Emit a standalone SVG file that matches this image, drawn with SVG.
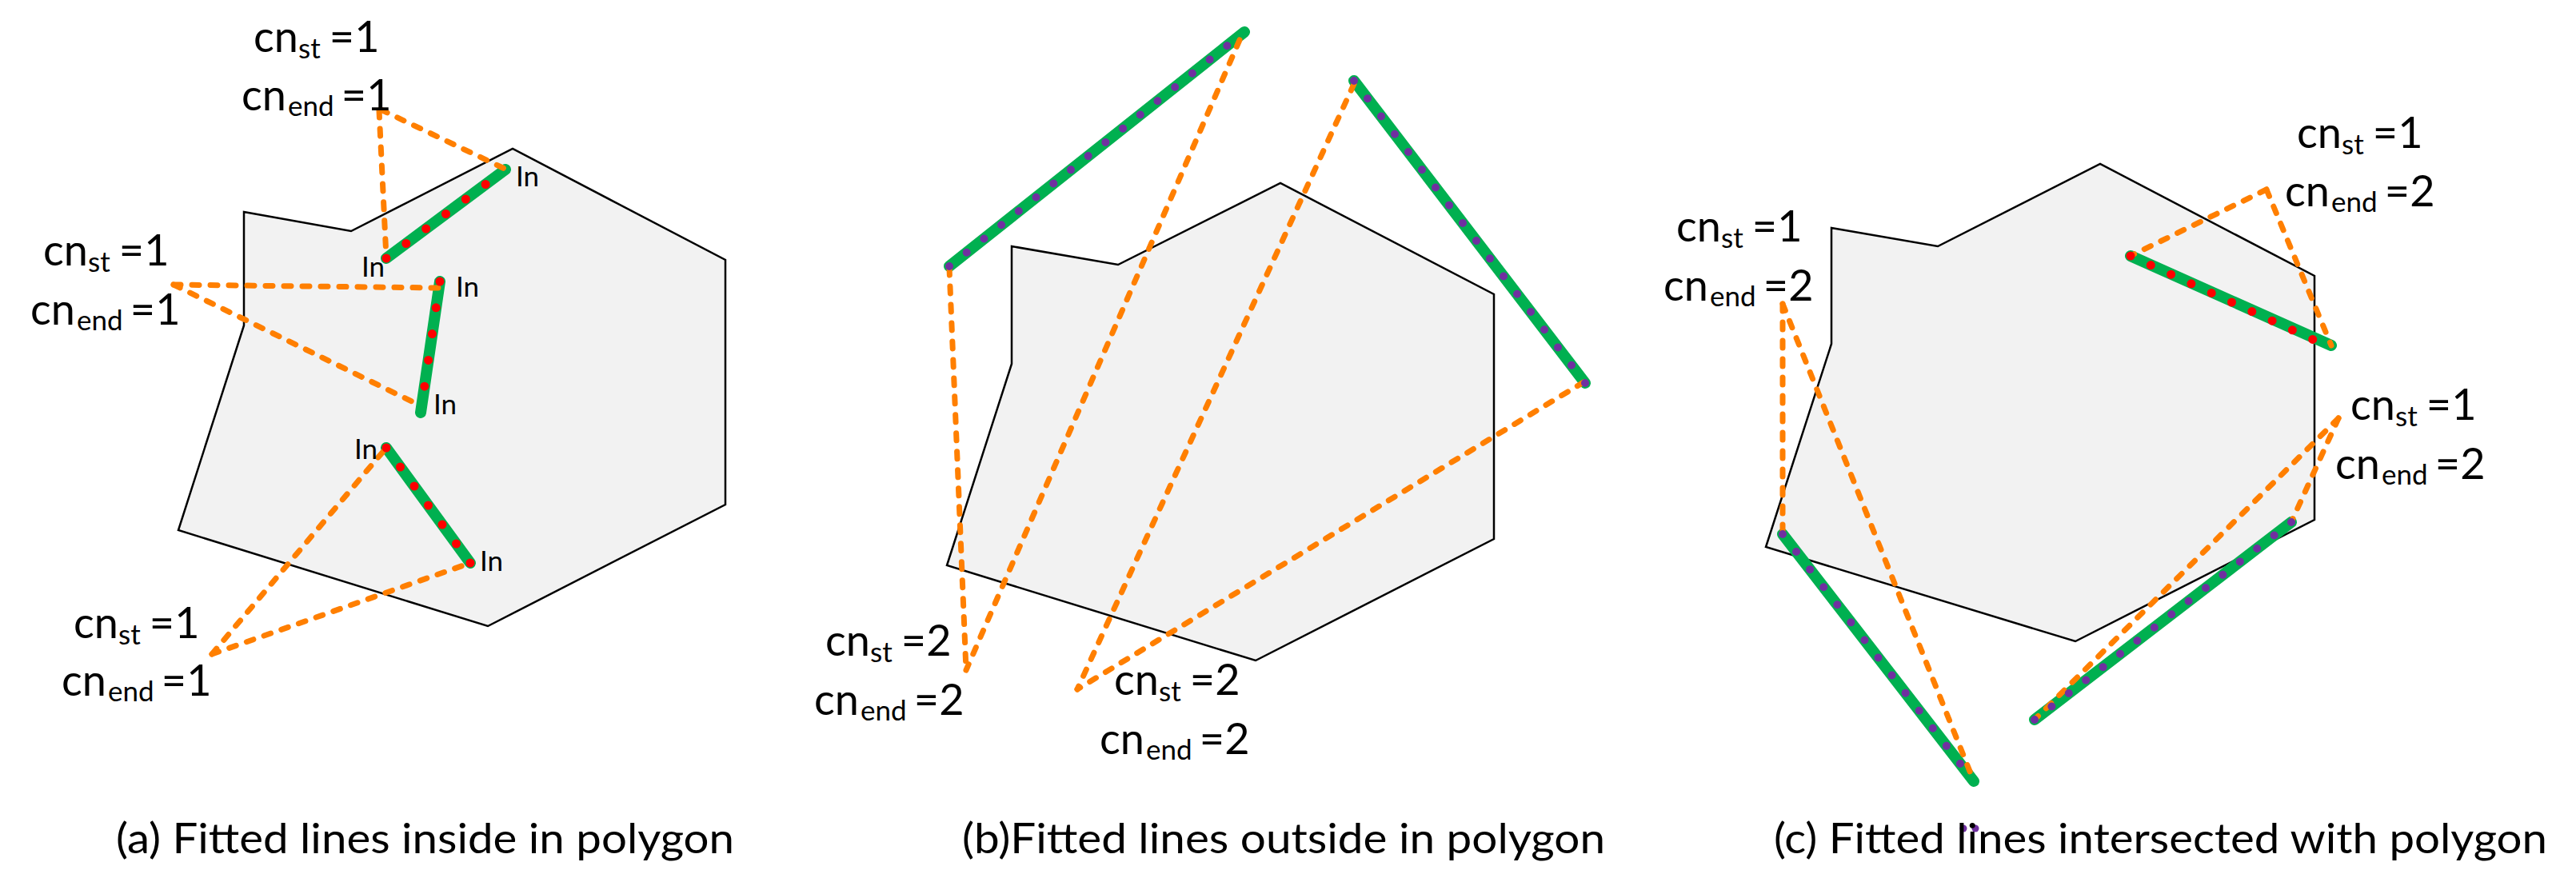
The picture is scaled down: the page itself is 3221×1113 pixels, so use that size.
<svg xmlns="http://www.w3.org/2000/svg" width="3221" height="1113" viewBox="0 0 3221 1113">
<style>
.poly{fill:#f2f2f2;stroke:#000;stroke-width:2.5;stroke-linejoin:miter}
.fit{stroke:#00b050;stroke-width:14;stroke-linecap:round;fill:none}
.rd{stroke:#ff0000;stroke-width:11;stroke-linecap:round;stroke-dasharray:0 1;fill:none}
.pd{stroke:#7030a0;stroke-width:10;stroke-linecap:round;stroke-dasharray:0 1;fill:none}
.conn{stroke:#ff7f00;stroke-width:7;stroke-dasharray:9 14;stroke-linecap:round;fill:none}
text{font-family:Lato,"Open Sans","Liberation Sans",sans-serif;fill:#000}
.lbl{font-size:54px}
.sub{font-size:35px}
.in{font-size:35px}
.cap{font-size:53px}
</style>
<rect width="3221" height="1113" fill="#fff"/>

<!-- Panel (a) -->
<g id="poly-a"><polygon class="poly" points="305,265 439,289 641,186 907,325 907,631 610,783 223,663 305,407"/></g>
<g id="line-a1"><line class="fit" x1="483" y1="323" x2="632" y2="212"/></g>
<g id="line-a2"><line class="fit" x1="550" y1="352" x2="526" y2="516"/></g>
<g id="line-a3"><line class="fit" x1="483" y1="560" x2="588" y2="704"/></g>

<!-- Panel (b) -->
<g id="poly-b"><polygon class="poly" points="1265,308 1398,331 1601,229 1868,368 1868,674 1570,826 1184,707 1265,455"/></g>
<g id="line-b1"><line class="fit" x1="1187" y1="333" x2="1556" y2="40"/></g>
<g id="line-b2"><line class="fit" x1="1693" y1="101" x2="1982" y2="479"/></g>

<!-- Panel (c) -->
<g id="poly-c"><polygon class="poly" points="2290,285 2423,308 2626,205 2894,345 2894,650 2595,802 2208,684 2290,430"/></g>
<g id="line-c1"><line class="fit" x1="2664" y1="320" x2="2915" y2="432"/></g>
<g id="line-c2"><line class="fit" x1="2229" y1="668" x2="2468" y2="977"/></g>
<g id="line-c3"><line class="fit" x1="2865" y1="653" x2="2544" y2="900"/></g>

<g id="connectors">
  <line class="conn" x1="474" y1="138" x2="483" y2="322"/>
  <line class="conn" x1="476" y1="137" x2="631" y2="211"/>
  <line class="conn" x1="217" y1="356" x2="548" y2="360"/>
  <line class="conn" x1="217" y1="356" x2="523" y2="506"/>
  <line class="conn" x1="265" y1="818" x2="483" y2="560"/>
  <line class="conn" x1="265" y1="818" x2="588" y2="704"/>
  <line class="conn" x1="1187" y1="335" x2="1208" y2="838"/>
  <line class="conn" x1="1550" y1="50" x2="1208" y2="838"/>
  <line class="conn" x1="1693" y1="105" x2="1347" y2="862"/>
  <line class="conn" x1="1980" y1="478" x2="1347" y2="862"/>
  <line class="conn" x1="2834" y1="237" x2="2664" y2="320"/>
  <line class="conn" x1="2834" y1="237" x2="2915" y2="432"/>
  <line class="conn" x1="2229" y1="380" x2="2229" y2="668"/>
  <line class="conn" x1="2229" y1="380" x2="2468" y2="977"/>
  <line class="conn" x1="2924" y1="523" x2="2865" y2="653"/>
  <line class="conn" x1="2924" y1="523" x2="2544" y2="900"/>
</g>

<g id="dots">
  <line class="rd" x1="483" y1="323" x2="632" y2="212" pathLength="6"/>
  <line class="rd" x1="550" y1="352" x2="526" y2="516" pathLength="5"/>
  <line class="rd" x1="483" y1="560" x2="588" y2="704" pathLength="6"/>
  <line class="pd" x1="1187" y1="333" x2="1556" y2="40" pathLength="17"/>
  <line class="pd" x1="1693" y1="101" x2="1982" y2="479" pathLength="17"/>
  <line class="rd" x1="2664" y1="320" x2="2917" y2="436" pathLength="10"/>
  <line class="pd" x1="2229" y1="668" x2="2468" y2="977" pathLength="14"/>
  <line class="pd" x1="2865" y1="653" x2="2544" y2="900" pathLength="15"/>
  <circle cx="2455" cy="1036" r="4.5" fill="#7030a0"/>
  <circle cx="2470" cy="1036" r="4.5" fill="#7030a0"/>
</g>

<g id="in-labels">
  <text class="in" x="645" y="233">In</text>
  <text class="in" x="452" y="346">In</text>
  <text class="in" x="570" y="371">In</text>
  <text class="in" x="542" y="518">In</text>
  <text class="in" x="443" y="574">In</text>
  <text class="in" x="600" y="714">In</text>
</g>

<g id="label-a-top">
  <text class="lbl" x="317" y="65">cn<tspan class="sub" x="373" dy="8">st</tspan><tspan x="398" dy="-8"> =1</tspan></text>
  <text class="lbl" x="302" y="138">cn<tspan class="sub" x="360" dy="7">end</tspan><tspan x="413" dy="-7"> =1</tspan></text>
</g>
<g id="label-a-mid">
  <text class="lbl" x="54" y="332">cn<tspan class="sub" x="110" dy="8">st</tspan><tspan x="135" dy="-8"> =1</tspan></text>
  <text class="lbl" x="38" y="406">cn<tspan class="sub" x="96" dy="7">end</tspan><tspan x="149" dy="-7"> =1</tspan></text>
</g>
<g id="label-a-bot">
  <text class="lbl" x="92" y="798">cn<tspan class="sub" x="148" dy="8">st</tspan><tspan x="173" dy="-8"> =1</tspan></text>
  <text class="lbl" x="77" y="870">cn<tspan class="sub" x="135" dy="7">end</tspan><tspan x="188" dy="-7"> =1</tspan></text>
</g>
<g id="label-b-left">
  <text class="lbl" x="1032" y="820">cn<tspan class="sub" x="1088" dy="8">st</tspan><tspan x="1113" dy="-8"> =2</tspan></text>
  <text class="lbl" x="1018" y="894">cn<tspan class="sub" x="1076" dy="7">end</tspan><tspan x="1129" dy="-7"> =2</tspan></text>
</g>
<g id="label-b-right">
  <text class="lbl" x="1393" y="869">cn<tspan class="sub" x="1449" dy="8">st</tspan><tspan x="1474" dy="-8"> =2</tspan></text>
  <text class="lbl" x="1375" y="943">cn<tspan class="sub" x="1433" dy="7">end</tspan><tspan x="1486" dy="-7"> =2</tspan></text>
</g>
<g id="label-c-top">
  <text class="lbl" x="2872" y="185">cn<tspan class="sub" x="2928" dy="8">st</tspan><tspan x="2953" dy="-8"> =1</tspan></text>
  <text class="lbl" x="2857" y="258">cn<tspan class="sub" x="2915" dy="7">end</tspan><tspan x="2968" dy="-7"> =2</tspan></text>
</g>
<g id="label-c-left">
  <text class="lbl" x="2096" y="302">cn<tspan class="sub" x="2152" dy="8">st</tspan><tspan x="2177" dy="-8"> =1</tspan></text>
  <text class="lbl" x="2080" y="376">cn<tspan class="sub" x="2138" dy="7">end</tspan><tspan x="2191" dy="-7"> =2</tspan></text>
</g>
<g id="label-c-right">
  <text class="lbl" x="2939" y="525">cn<tspan class="sub" x="2995" dy="8">st</tspan><tspan x="3020" dy="-8"> =1</tspan></text>
  <text class="lbl" x="2920" y="599">cn<tspan class="sub" x="2978" dy="7">end</tspan><tspan x="3031" dy="-7"> =2</tspan></text>
</g>

<g id="captions">
  <text class="cap" x="145" y="1067" textLength="773" lengthAdjust="spacingAndGlyphs">(a) Fitted lines inside in polygon</text>
  <text class="cap" x="1203" y="1067" textLength="804" lengthAdjust="spacingAndGlyphs">(b)Fitted lines outside in polygon</text>
  <text class="cap" x="2218" y="1067" textLength="967" lengthAdjust="spacingAndGlyphs">(c) Fitted lines intersected with polygon</text>
</g>
</svg>
